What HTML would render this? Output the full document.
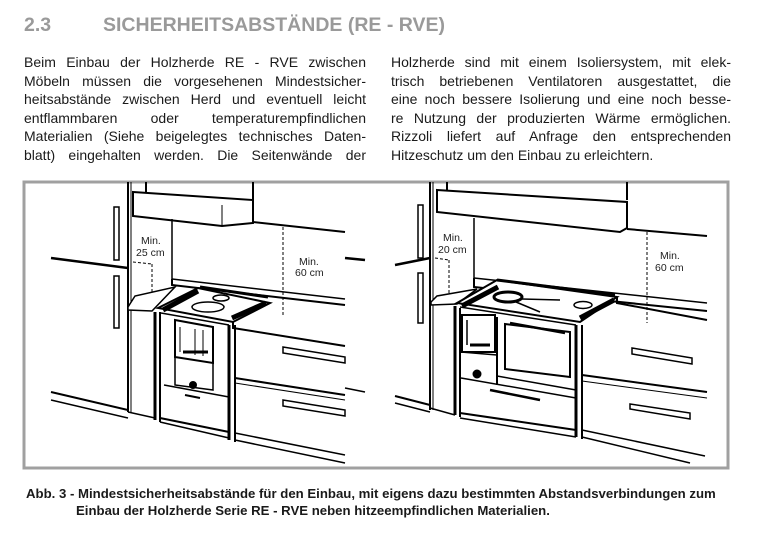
<!DOCTYPE html>
<html><head><meta charset="utf-8"><style>
body{margin:0;width:773px;height:533px;background:#fff;position:relative;overflow:hidden;font-family:"Liberation Sans",sans-serif;color:#1a1a1a}
.t{position:absolute;font-size:19.5px;font-weight:bold;color:#9a9a9a;top:14px}
.col{position:absolute;top:53px;font-size:14px;line-height:18.6px}
.col div{text-align:justify;text-align-last:justify;white-space:nowrap}
.col div.l{text-align-last:left}
.cap{position:absolute;font-size:13.2px;font-weight:bold;left:26px;top:485px;line-height:17px;white-space:nowrap}
</style></head><body>
<div class="t" style="left:24px">2.3</div>
<div class="t" style="left:103px">SICHERHEITSABSTÄNDE (RE - RVE)</div>
<div class="col" style="left:24px;width:342px">
<div>Beim Einbau der Holzherde RE - RVE zwischen</div>
<div>Möbeln müssen die vorgesehenen Mindestsicher-</div>
<div>heitsabstände zwischen Herd und eventuell leicht</div>
<div>entflammbaren oder temperaturempfindlichen</div>
<div>Materialien (Siehe beigelegtes technisches Daten-</div>
<div>blatt) eingehalten werden. Die Seitenwände der</div>
</div>
<div class="col" style="left:391px;width:340px">
<div>Holzherde sind mit einem Isoliersystem, mit elek-</div>
<div>trisch betriebenen Ventilatoren ausgestattet, die</div>
<div>eine noch bessere Isolierung und eine noch besse-</div>
<div>re Nutzung der produzierten Wärme ermöglichen.</div>
<div>Rizzoli liefert auf Anfrage den entsprechenden</div>
<div class="l">Hitzeschutz um den Einbau zu erleichtern.</div>
</div>
<svg style="position:absolute;left:0;top:0" width="773" height="533" fill="none" stroke="#000" stroke-width="2">
<rect x="24" y="182" width="704" height="286" stroke="#a0a0a0" stroke-width="3"/>
<g>
<line x1="128" y1="182" x2="128" y2="412"/><line x1="131" y1="182" x2="131" y2="412" stroke-width="1"/>
<line x1="146" y1="182" x2="146" y2="192"/><line x1="253" y1="182" x2="253" y2="200"/>
<polygon points="133,192 253,200 253,223 222,226 133,216" fill="#fff"/>
<line x1="222" y1="205" x2="222" y2="226" stroke-width="1"/>
<line x1="172" y1="219" x2="172" y2="280" stroke-width="1.5"/>
<line x1="253" y1="222" x2="345" y2="232"/>
<rect x="114" y="207" width="5" height="53" stroke-width="1.5"/>
<rect x="114" y="276" width="5" height="52" stroke-width="1.5"/>
<line x1="51" y1="258" x2="128" y2="268" stroke-width="2.5"/>
<line x1="152" y1="264" x2="152" y2="310" stroke-dasharray="3,2" stroke-width="1"/>
<line x1="133" y1="262" x2="152" y2="264" stroke-dasharray="3,2" stroke-width="1"/>
<line x1="283" y1="227" x2="283" y2="315" stroke-dasharray="3,2" stroke-width="1"/>
<polyline points="172,279 172,285 345,305"/>
<line x1="172" y1="279" x2="345" y2="299" stroke-width="1.5"/>
<polygon points="128,307 135,296 175,287 152,311 128,310" fill="#fff" stroke-width="1.5"/>
<polygon points="158,308 198,288 270,303 233,322" fill="#fff"/>
<line x1="163" y1="310" x2="198" y2="291" stroke-width="5"/>
<line x1="232" y1="318" x2="266" y2="303" stroke-width="5"/>
<line x1="200" y1="287" x2="268" y2="297" stroke-width="3"/>
<ellipse cx="208" cy="307" rx="16" ry="5" stroke-width="1.5"/>
<ellipse cx="221" cy="298" rx="8" ry="3" stroke-width="1.5"/>
<polyline points="233,322 233,328 345,346"/>
<line x1="155" y1="312" x2="155" y2="420" stroke-width="3"/>
<line x1="160" y1="312" x2="160" y2="422" stroke-width="2"/>
<line x1="229" y1="325" x2="229" y2="440" stroke-width="3"/>
<line x1="235" y1="325" x2="235" y2="442" stroke-width="2"/>
<line x1="161" y1="313" x2="229" y2="325" stroke-width="1.5"/>
<polygon points="175,320 213,327 213,363 175,357" stroke-width="2"/>
<line x1="180" y1="327" x2="180" y2="352" stroke-width="1"/><line x1="195" y1="329" x2="195" y2="355" stroke-width="1"/><line x1="203" y1="330" x2="203" y2="356" stroke-width="1"/>
<line x1="183" y1="352" x2="208" y2="352" stroke-width="3"/>
<polyline points="175,357 175,385 213,390 213,363" stroke-width="1.5"/>
<line x1="164" y1="385" x2="229" y2="397" stroke-width="1.5"/>
<circle cx="193" cy="385" r="3" fill="#000"/>
<line x1="185" y1="395" x2="200" y2="398" stroke-width="2"/>
<line x1="160" y1="418" x2="229" y2="432"/>
<line x1="235" y1="378" x2="345" y2="395"/>
<line x1="235" y1="383" x2="345" y2="400" stroke-width="1"/>
<polygon points="283,347 345,357 345,363 283,353" stroke-width="1.5"/>
<polygon points="283,400 345,410 345,416 283,406" stroke-width="1.5"/>
<line x1="51" y1="392" x2="128" y2="410"/><line x1="51" y1="400" x2="128" y2="418" stroke-width="1.5"/>
<line x1="128" y1="412" x2="155" y2="418" stroke-width="1.5"/>
<line x1="160" y1="422" x2="229" y2="438" stroke-width="1.5"/>
<line x1="235" y1="440" x2="345" y2="463" stroke-width="1.5"/>
<line x1="235" y1="433" x2="345" y2="455" stroke-width="1.5"/>
<line x1="345" y1="258" x2="365" y2="260" stroke-width="2.5"/>
<line x1="345" y1="388" x2="365" y2="392" stroke-width="1.5"/>
</g>
<g>
<line x1="430" y1="182" x2="430" y2="410"/><line x1="433" y1="182" x2="433" y2="410" stroke-width="1"/>
<line x1="447" y1="182" x2="447" y2="190"/><line x1="627" y1="182" x2="627" y2="200"/>
<polygon points="437,190 627,202 627,228 620,232 437,212" fill="#fff"/>
<line x1="474" y1="218" x2="474" y2="280" stroke-width="1.5"/>
<line x1="627" y1="229" x2="707" y2="236"/>
<rect x="418" y="205" width="5" height="53" stroke-width="1.5"/>
<rect x="418" y="273" width="5" height="50" stroke-width="1.5"/>
<line x1="395" y1="265" x2="430" y2="258" stroke-width="2.5"/>
<line x1="449" y1="260" x2="449" y2="300" stroke-dasharray="3,2" stroke-width="1"/>
<line x1="435" y1="258" x2="449" y2="260" stroke-dasharray="3,2" stroke-width="1"/>
<line x1="647" y1="232" x2="647" y2="323" stroke-dasharray="3,2" stroke-width="1"/>
<polyline points="474,278 474,287 707,311"/>
<line x1="474" y1="278" x2="707" y2="303" stroke-width="1.5"/>
<polygon points="431,302 437,296 477,289 457,304 431,305" fill="#fff" stroke-width="1.5"/>
<polygon points="457,303 497,280 617,297 580,322" fill="#fff"/>
<line x1="462" y1="306" x2="498" y2="287" stroke-width="5"/>
<line x1="580" y1="318" x2="614" y2="300" stroke-width="5"/>
<line x1="497" y1="280" x2="615" y2="295" stroke-width="3"/>
<ellipse cx="508" cy="297" rx="14" ry="5" stroke-width="3"/>
<line x1="522" y1="299" x2="560" y2="300" stroke-width="1.5"/><line x1="516" y1="302" x2="540" y2="312" stroke-width="1.5"/>
<ellipse cx="583" cy="305" rx="9" ry="3.5" stroke-width="1.5"/>
<polyline points="617,297 617,303 707,320"/>
<line x1="455" y1="306" x2="455" y2="415" stroke-width="3"/>
<line x1="460" y1="308" x2="460" y2="417" stroke-width="2"/>
<line x1="576" y1="325" x2="576" y2="437" stroke-width="3"/>
<line x1="582" y1="325" x2="582" y2="439" stroke-width="2"/>
<line x1="460" y1="307" x2="576" y2="325" stroke-width="1.5"/>
<rect x="462" y="315" width="33" height="37" stroke-width="2"/>
<line x1="467" y1="320" x2="467" y2="345" stroke-width="1.5"/>
<line x1="470" y1="345" x2="490" y2="345" stroke-width="3"/>
<line x1="497" y1="317" x2="497" y2="385" stroke-width="2"/>
<polygon points="505,324 570,332 570,377 505,369" stroke-width="2"/>
<line x1="510" y1="323" x2="565" y2="333" stroke-width="2.5"/>
<line x1="461" y1="352" x2="497" y2="355" stroke-width="1.5"/>
<line x1="497" y1="376" x2="576" y2="390" stroke-width="1.5"/>
<circle cx="477" cy="374" r="3.5" fill="#000"/>
<line x1="461" y1="378" x2="576" y2="398" stroke-width="1.5"/>
<line x1="490" y1="390" x2="540" y2="400" stroke-width="2.5"/>
<line x1="460" y1="413" x2="576" y2="430"/>
<line x1="582" y1="375" x2="707" y2="392"/>
<line x1="582" y1="381" x2="707" y2="398" stroke-width="1"/>
<polygon points="632,348 692,358 692,364 632,354" stroke-width="1.5"/>
<polygon points="630,404 690,413 690,419 630,409" stroke-width="1.5"/>
<line x1="395" y1="396" x2="430" y2="405"/><line x1="395" y1="403" x2="430" y2="412" stroke-width="1.5"/>
<line x1="430" y1="408" x2="455" y2="415" stroke-width="1.5"/>
<line x1="460" y1="418" x2="576" y2="437" stroke-width="1.5"/>
<line x1="582" y1="437" x2="690" y2="463" stroke-width="1.5"/>
<line x1="582" y1="430" x2="705" y2="456" stroke-width="1.5"/>
</g>
<g stroke="none" fill="#222" font-family="Liberation Sans, sans-serif" font-size="10.5">
<text x="141" y="244">Min.</text><text x="136" y="256">25 cm</text>
<text x="299" y="265">Min.</text><text x="295" y="276">60 cm</text>
<text x="443" y="241">Min.</text><text x="438" y="253">20 cm</text>
<text x="660" y="259">Min.</text><text x="655" y="271">60 cm</text>
</g>
</svg>
<div class="cap">Abb. 3 - Mindestsicherheitsabstände für den Einbau, mit eigens dazu bestimmten Abstandsverbindungen zum<br><span style="padding-left:50px">Einbau der Holzherde Serie RE - RVE neben hitzeempfindlichen Materialien.</span></div>
</body></html>
